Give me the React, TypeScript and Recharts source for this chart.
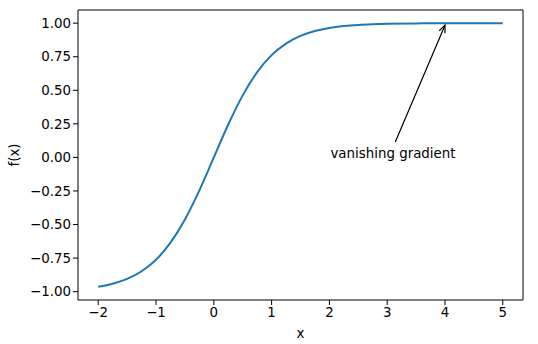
import React from "react";
import {
  Line,
  LineChart,
  ReferenceDot,
  ReferenceLine,
  XAxis,
  YAxis,
} from "recharts";

// values
const xs = [
  -2, -1.75, -1.5, -1.25, -1, -0.75, -0.5, -0.25, 0, 0.25, 0.5, 0.75, 1, 1.25,
  1.5, 1.75, 2, 2.25, 2.5, 2.75, 3, 3.5, 4, 4.5, 5,
];
const fx = [
  -0.964, -0.941, -0.905, -0.848, -0.762, -0.635, -0.462, -0.245, 0, 0.245,
  0.462, 0.635, 0.762, 0.848, 0.905, 0.941, 0.964, 0.978, 0.987, 0.992, 0.995,
  0.998, 0.999, 1.0, 1.0,
];
const xTicks = [-2, -1, 0, 1, 2, 3, 4, 5];
const yTicks = [-1, -0.75, -0.5, -0.25, 0, 0.25, 0.5, 0.75, 1];

const annotationText = "vanishing gradient";
const annotationAt = { x: 2, y: 0 };
const arrowFrom = { x: 3.14, y: 0.115 };
const arrowTo = { x: 4, y: 0.985 };

const xDomain = [-2.35, 5.35];
const yDomain = [-1.062, 1.098];

const data = xs.map((x, i) => ({ x, y: fx[i] }));

const font = "DejaVu Sans, sans-serif";
const fontSize = 13.4;
const minus = (s: string) => s.replace("-", "\u2212");

const Arrow = (props: any) => {
  const { x1, y1, x2, y2 } = props;
  const ang = Math.atan2(y2 - y1, x2 - x1);
  const len = 8;
  const spread = 0.4;
  const a1x = x2 - len * Math.cos(ang - spread);
  const a1y = y2 - len * Math.sin(ang - spread);
  const a2x = x2 - len * Math.cos(ang + spread);
  const a2y = y2 - len * Math.sin(ang + spread);
  return (
    <g stroke="#000" strokeWidth={1.2} fill="none">
      <line x1={x1} y1={y1} x2={x2} y2={y2} />
      <polyline points={`${a1x},${a1y} ${x2},${y2} ${a2x},${a2y}`} />
    </g>
  );
};

const AnnotationLabel = (props: any) => {
  const { viewBox } = props;
  return (
    <text
      x={viewBox.x + 1}
      y={viewBox.y + 1}
      fontFamily={font}
      fontSize={fontSize}
      fill="#000"
    >
      {annotationText}
    </text>
  );
};

const App = () => {
  return (
    <div style={{ position: "fixed", left: 0, top: 0, background: "#fff" }}>
      <LineChart
        width={538}
        height={344}
        data={data}
        margin={{ top: 10, right: 15, left: 0, bottom: 0 }}
      >
        <XAxis
          dataKey="x"
          type="number"
          domain={xDomain}
          ticks={xTicks}
          allowDataOverflow
          height={44}
          tickSize={5}
          stroke="#000"
          tick={{ fill: "#000", fontSize, fontFamily: font }}
          tickFormatter={(v: number) => minus(String(v))}
          label={{
            value: "x",
            position: "insideBottom",
            offset: 6,
            fill: "#000",
            fontSize,
            fontFamily: font,
          }}
        />
        <YAxis
          type="number"
          domain={yDomain}
          ticks={yTicks}
          allowDataOverflow
          width={78}
          tickSize={5}
          stroke="#000"
          tick={{ fill: "#000", fontSize, fontFamily: font }}
          tickFormatter={(v: number) => minus(v.toFixed(2))}
          label={{
            value: "f(x)",
            angle: -90,
            position: "insideLeft",
            offset: 14,
            fill: "#000",
            fontSize,
            fontFamily: font,
            style: { textAnchor: "middle" },
          }}
        />
        {/* top and right spines */}
        <ReferenceLine y={yDomain[1]} stroke="#000" ifOverflow="visible" />
        <ReferenceLine x={xDomain[1]} stroke="#000" ifOverflow="visible" />
        <Line
          dataKey="y"
          type="monotone"
          stroke="#1f77b4"
          strokeWidth={2}
          dot={false}
          isAnimationActive={false}
        />
        <ReferenceLine
          segment={[arrowFrom, arrowTo]}
          shape={Arrow}
          ifOverflow="visible"
        />
        <ReferenceDot
          x={annotationAt.x}
          y={annotationAt.y}
          r={0}
          stroke="none"
          fill="none"
          label={<AnnotationLabel />}
        />
      </LineChart>
    </div>
  );
};

export default App;
